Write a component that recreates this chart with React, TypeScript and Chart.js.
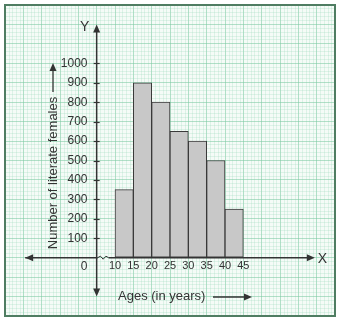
import React, { useEffect, useRef } from 'react';
import { Chart, registerables } from 'chart.js';

Chart.register(...registerables);

// ---- data ----
const classLower = [10, 15, 20, 25, 30, 35, 40];
const classWidth = 5;
const femaleCounts = [350, 900, 800, 650, 600, 500, 250];
const xTickLabels = [10, 15, 20, 25, 30, 35, 40, 45];
const yTickLabels = [100, 200, 300, 400, 500, 600, 700, 800, 900, 1000];
const xAxisTitle = 'Ages (in years)';
const yAxisTitle = 'Number of literate females';

const FONT = "'Liberation Sans', Arial, Helvetica, sans-serif";
const TEXT = '#333333';
const AXIS = '#333333';
const MAJOR = 'rgba(120, 200, 160, 0.55)';
const MINOR = 'rgba(150, 215, 185, 0.25)';

const zeroPad = (s: any) => {
  s.paddingTop = 0;
  s.paddingBottom = 0;
  s.paddingLeft = 0;
  s.paddingRight = 0;
};

function arrowHead(ctx: CanvasRenderingContext2D, x: number, y: number, dx: number, dy: number) {
  const len = 8;
  const hw = 3.5;
  const bx = x - dx * len;
  const by = y - dy * len;
  ctx.beginPath();
  ctx.moveTo(x, y);
  ctx.lineTo(bx - dy * hw, by + dx * hw);
  ctx.lineTo(bx + dy * hw, by - dx * hw);
  ctx.closePath();
  ctx.fill();
}

const decorPlugin = {
  id: 'decor',
  beforeDraw(chart: any) {
    const { ctx, chartArea: a } = chart;
    const xs = chart.scales.x;
    ctx.save();
    ctx.fillStyle = '#ffffff';
    ctx.fillRect(0, 0, chart.width, chart.height);
    ctx.fillStyle = '#f5fbf7';
    ctx.fillRect(a.left, a.top, a.right - a.left, a.bottom - a.top);
    // minor vertical grid: every year
    ctx.strokeStyle = MINOR;
    ctx.lineWidth = 1;
    for (let v = Math.ceil(xs.min); v <= xs.max; v++) {
      if (v % 5 === 0) continue;
      const px = Math.round(xs.getPixelForValue(v)) + 0.5;
      ctx.beginPath();
      ctx.moveTo(px, a.top);
      ctx.lineTo(px, a.bottom);
      ctx.stroke();
    }
    ctx.restore();
  },
  afterDraw(chart: any) {
    const { ctx, chartArea: a } = chart;
    const xs = chart.scales.x;
    const ys = chart.scales.y;
    const x0 = xs.getPixelForValue(5);
    const y0 = ys.getPixelForValue(0);
    ctx.save();
    ctx.strokeStyle = AXIS;
    ctx.fillStyle = AXIS;
    ctx.lineWidth = 1.5;

    // x axis with break
    const xl = xs.getPixelForValue(-14.5);
    const xr = xs.getPixelForValue(64.5);
    ctx.beginPath();
    ctx.moveTo(xl, y0);
    ctx.lineTo(x0 + 1, y0);
    ctx.stroke();
    ctx.beginPath();
    ctx.lineWidth = 1;
    const zs = x0 + 1;
    const ze = x0 + 12;
    ctx.moveTo(zs, y0);
    const n = 4;
    for (let i = 1; i <= n; i++) {
      const px = zs + ((ze - zs) * i) / n;
      const py = y0 + (i % 2 === 1 ? -1.5 : 1.5);
      if (i === n) ctx.lineTo(px, y0);
      else ctx.lineTo(px, py);
    }
    ctx.stroke();
    ctx.lineWidth = 1.5;
    ctx.beginPath();
    ctx.moveTo(ze, y0);
    ctx.lineTo(xr - 4, y0);
    ctx.stroke();
    arrowHead(ctx, xl, y0, -1, 0);
    arrowHead(ctx, xr, y0, 1, 0);

    // y axis
    const yt = ys.getPixelForValue(1200);
    const yb = ys.getPixelForValue(-200);
    ctx.beginPath();
    ctx.moveTo(x0, yt + 4);
    ctx.lineTo(x0, yb - 4);
    ctx.stroke();
    arrowHead(ctx, x0, yt, 0, -1);
    arrowHead(ctx, x0, yb, 0, 1);

    // y tick marks
    ctx.lineWidth = 1.2;
    yTickLabels.forEach((v) => {
      const py = Math.round(ys.getPixelForValue(v)) + 0.5;
      ctx.beginPath();
      ctx.moveTo(x0 - 3, py);
      ctx.lineTo(x0 + 3, py);
      ctx.stroke();
    });

    // texts
    ctx.fillStyle = TEXT;
    ctx.font = `12px ${FONT}`;
    ctx.textAlign = 'right';
    ctx.textBaseline = 'middle';
    ctx.fillText('0', xs.getPixelForValue(2.5), y0 + 9);
    ctx.font = `14px ${FONT}`;
    ctx.textAlign = 'center';
    ctx.fillText('Y', x0 - 12, yt + 3);
    ctx.textAlign = 'left';
    ctx.fillText('X', xr + 3, y0 + 1);

    // x title
    ctx.font = `13px ${FONT}`;
    ctx.textAlign = 'left';
    const ty = 296;
    ctx.fillText(xAxisTitle, 118, ty);
    ctx.lineWidth = 1.3;
    ctx.beginPath();
    ctx.moveTo(213, ty + 1);
    ctx.lineTo(246, ty + 1);
    ctx.stroke();
    arrowHead(ctx, 252, ty + 1, 1, 0);

    // y title
    ctx.save();
    ctx.translate(53, 173);
    ctx.rotate(-Math.PI / 2);
    ctx.textAlign = 'center';
    ctx.fillText(yAxisTitle, 0, 0);
    ctx.restore();
    ctx.beginPath();
    ctx.moveTo(53, 92);
    ctx.lineTo(53, 69);
    ctx.stroke();
    arrowHead(ctx, 53, 63, 0, -1);

    // outer border
    ctx.strokeStyle = '#4f7d62';
    ctx.lineWidth = 2;
    ctx.strokeRect(a.left, a.top, a.right - a.left, a.bottom - a.top);
    ctx.restore();
  },
};

export default function App() {
  const ref = useRef<HTMLCanvasElement | null>(null);
  useEffect(() => {
    if (!ref.current) return;
    const chart = new Chart(ref.current, {
      type: 'bar',
      data: {
        datasets: [
          {
            label: 'Literate females',
            data: classLower.map((l, i) => ({ x: l + classWidth / 2, y: femaleCounts[i] })),
            backgroundColor: '#c8c8c8',
            borderColor: '#3a3a3a',
            borderWidth: 1,
            borderSkipped: false,
            barPercentage: 1,
            categoryPercentage: 1,
          },
        ],
      },
      options: {
        animation: false,
        responsive: false,
        layout: { padding: { left: 5, top: 5, right: 4, bottom: 7 } },
        plugins: { legend: { display: false }, tooltip: { enabled: false } },
        scales: {
          x: {
            type: 'linear',
            min: -20,
            max: 70,
            offset: false,
            position: { y: 0 } as any,
            border: { display: false },
            grid: {
              offset: false,
              drawTicks: false,
              lineWidth: 1,
              color: MAJOR,
            },
            ticks: {
              stepSize: classWidth,
              autoSkip: false,
              maxRotation: 0,
              minRotation: 0,
              padding: 2,
              color: TEXT,
              font: { family: FONT, size: 11 },
              callback: (v: any) => (xTickLabels.includes(Number(v)) ? String(v) : ''),
            },
            afterFit: zeroPad,
          },
          y: {
            type: 'linear',
            min: -300,
            max: 1300,
            position: { x: 2.5 } as any,
            border: { display: false },
            grid: {
              drawTicks: false,
              lineWidth: 1,
              color: (c: any) => (c.tick && c.tick.value % 100 === 0 ? MAJOR : MINOR),
            },
            ticks: {
              stepSize: 20,
              autoSkip: false,
              padding: 0,
              color: TEXT,
              font: { family: FONT, size: 12 },
              callback: (v: any) => (yTickLabels.includes(Number(v)) ? String(v) : ''),
            },
            afterFit: zeroPad,
          },
        },
      },
      plugins: [decorPlugin],
    });
    return () => chart.destroy();
  }, []);
  return (
    <div style={{ position: 'absolute', left: 0, top: 0, width: 339, height: 323 }}>
      <canvas ref={ref} width={339} height={323} style={{ width: 339, height: 323 }} />
    </div>
  );
}
